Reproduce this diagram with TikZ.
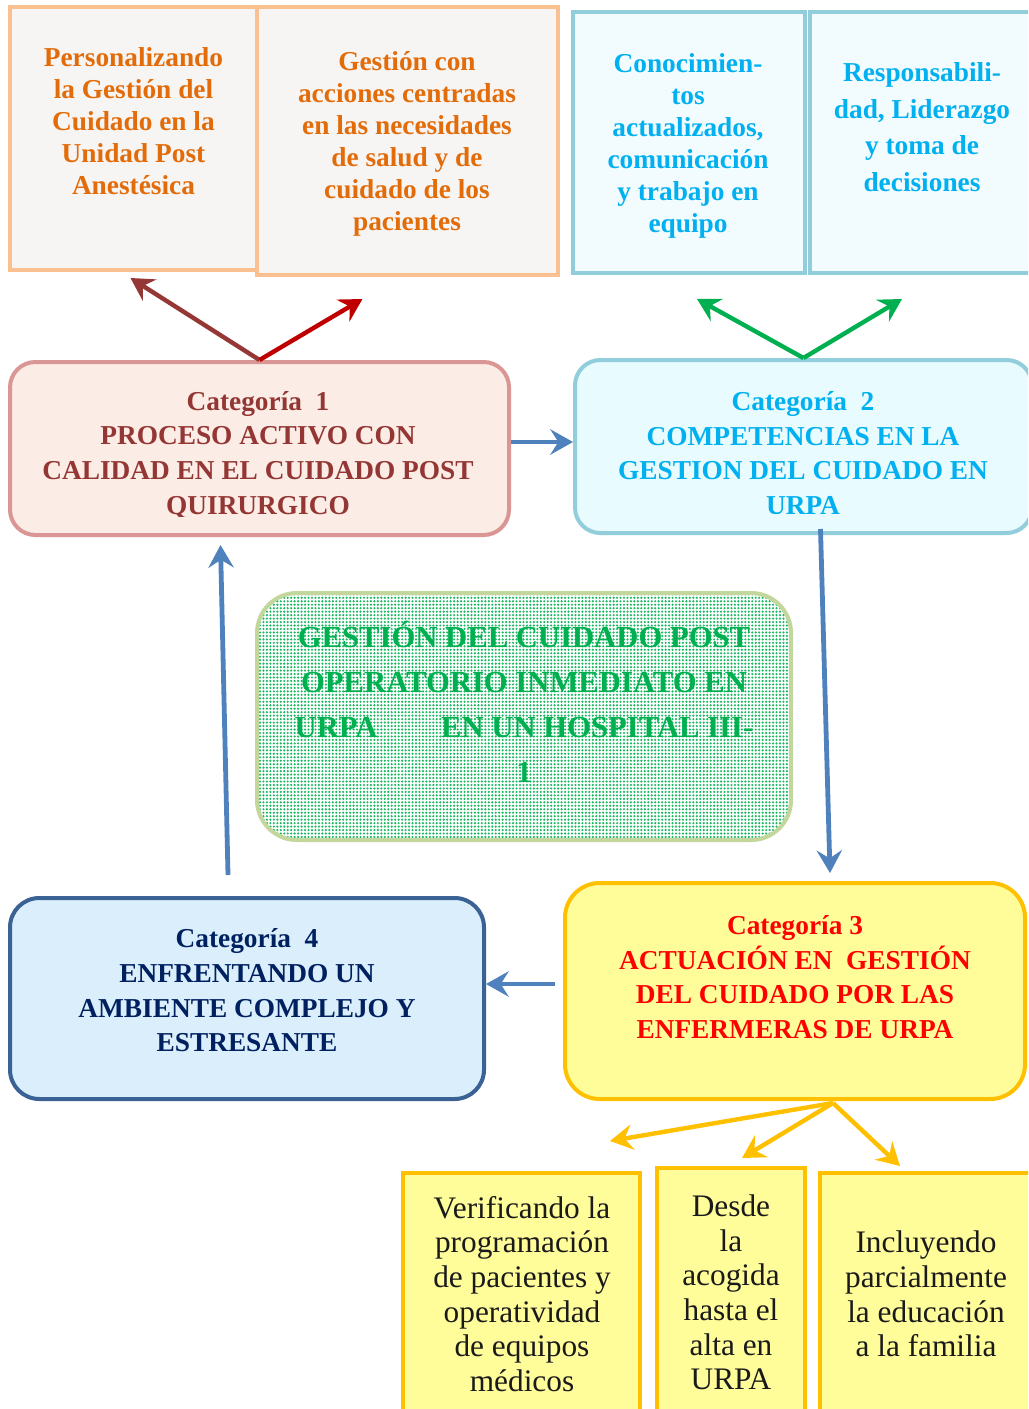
\documentclass[tikz,border=0pt]{standalone}
\usepackage{fontspec}
\setmainfont{Liberation Serif}
\usetikzlibrary{arrows.meta,calc,patterns.meta}
\definecolor{orTx}{HTML}{E36C0A}
\definecolor{orBd}{HTML}{FAC090}
\definecolor{orFl}{HTML}{F7F5F4}
\definecolor{cyTx}{HTML}{00B0F0}
\definecolor{cyBd}{HTML}{92CDDC}
\definecolor{cyFl}{HTML}{F2FBFD}
\definecolor{cyFlB}{HTML}{E8FBFE}
\definecolor{rdTx}{HTML}{943634}
\definecolor{rdBd}{HTML}{D99694}
\definecolor{rdFl}{HTML}{FBEDE6}
\definecolor{nvTx}{HTML}{002060}
\definecolor{nvBd}{HTML}{3A6295}
\definecolor{nvFl}{HTML}{DAEEFB}
\definecolor{ylBd}{HTML}{FFC000}
\definecolor{ylFl}{HTML}{FFFC9A}
\definecolor{grTx}{HTML}{00B050}
\definecolor{grBd}{HTML}{C3D69B}
\definecolor{arBr}{HTML}{953735}
\definecolor{arRd}{HTML}{C00000}
\definecolor{arBl}{HTML}{4F81BD}
\definecolor{bkTx}{HTML}{1A1A1A}
\tikzset{
  sq/.style={draw, line width=3pt, inner sep=0pt, rectangle},
  rnd/.style={draw, line width=3pt, inner sep=0pt, rectangle, rounded corners=#1},
  arr/.style={-{Stealth[length=17pt,width=19pt,inset=6pt]}, line width=3.3pt},
  txt/.style={align=center, inner sep=0pt},
  topfont/.style={font=\fontsize{20.5}{24}\selectfont\bfseries},
  catfont/.style={font=\fontsize{20.5}{26}\selectfont\bfseries},
  botfont/.style={font=\fontsize{23.5}{26}\selectfont},
}
\begin{document}
\begin{tikzpicture}[x=0.75pt,y=-0.75pt]
\clip (0,0) rectangle (1028,1409);
\fill[white] (0,0) rectangle (1028,1409);

% top boxes
\node[sq, draw=orBd, fill=orFl, minimum width=185.25pt, minimum height=197.25pt] (a) at (133.5,138.5) {};
\node[sq, draw=orBd, fill=orFl, minimum width=225.75pt, minimum height=201pt] (b) at (407.5,141) {};
\node[sq, draw=cyBd, fill=cyFl, minimum width=174pt, minimum height=195.75pt] (c) at (689,142.5) {};
\node[sq, draw=cyBd, fill=cyFl, minimum width=172.5pt, minimum height=195.75pt] (d) at (925,142.5) {};

\node[txt, topfont, text=orTx] (ta) at (133.5,121) {Personalizando\\la Gestión del\\Cuidado en la\\Unidad Post\\Anestésica};
\node[txt, topfont, text=orTx] (tb) at (407,143.5) {Gestión con\\acciones centradas\\en las necesidades\\de salud y de\\cuidado de los\\pacientes};
\node[txt, topfont, text=cyTx] (tcc) at (688,146) {Conocimien-\\tos\\actualizados,\\comunicación\\y trabajo en\\equipo};
\node[txt, font=\fontsize{20.5}{27.5}\selectfont\bfseries, text=cyTx] (td) at (922,127) {Responsabili-\\dad, Liderazgo\\y toma de\\decisiones};

% category boxes
\node[rnd=19pt, draw=rdBd, fill=rdFl, minimum width=374.25pt, minimum height=129.75pt] (c1) at (259.5,448.5) {};
\node[rnd=19pt, draw=cyBd, fill=cyFlB, minimum width=342.75pt, minimum height=129.75pt] (c2) at (803.5,446.5) {};
\node[rnd=26pt, draw=ylBd, fill=ylFl, minimum width=345pt, minimum height=162pt] (c3) at (795,991) {};
\node[rnd=22pt, draw=nvBd, fill=nvFl, minimum width=355.5pt, minimum height=150.75pt] (c4) at (247,998.5) {};

\begin{scope}
\clip (10,362) rectangle (509,516);
\node[txt, catfont, text=rdTx] (t1) at (258,455) {Categoría\ \ 1\\PROCESO ACTIVO CON\\CALIDAD EN EL CUIDADO POST\\QUIRURGICO};
\end{scope}
\begin{scope}
\clip (575,360) rectangle (1028,513);
\node[txt, catfont, text=cyTx] (t2) at (803,453) {Categoría\ \ 2\\COMPETENCIAS EN LA\\GESTION DEL CUIDADO EN\\URPA};
\end{scope}
\node[txt, catfont, text=red] (t3) at (795,977) {Categoría 3\\ACTUACIÓN EN\ \ GESTIÓN\\DEL CUIDADO POR LAS\\ENFERMERAS DE URPA};
\node[txt, catfont, text=nvTx] (t4) at (247,990.5) {Categoría\ \ 4\\ENFRENTANDO UN\\AMBIENTE COMPLEJO Y\\ESTRESANTE};

% center box
\node[rnd=30pt, draw=grBd, preaction={fill=white}, pattern={Dots[distance=2.6pt,radius=0.9pt]}, pattern color=grTx!90, minimum width=400.5pt, minimum height=185.25pt] (ctr) at (524,716.5) {};
\node[txt, font=\fontsize{23}{33.75}\selectfont\bfseries, text=grTx] (tctr) at (524,702) {GESTIÓN DEL CUIDADO POST\\OPERATORIO INMEDIATO EN\\\makebox[344pt]{URPA\hfill EN UN HOSPITAL III-}\\1};

% bottom boxes
\node[sq, draw=ylBd, fill=ylFl, minimum width=177.75pt, minimum height=185.25pt] (e) at (521.5,1296.5) {};
\node[sq, draw=ylBd, fill=ylFl, minimum width=111pt, minimum height=189pt] (f) at (731,1294) {};
\node[sq, draw=ylBd, fill=ylFl, minimum width=165pt, minimum height=185.25pt] (g) at (930,1296.5) {};

\node[txt, botfont, text=bkTx] (te) at (522,1294) {Verificando la\\programación\\de pacientes y\\operatividad\\de equipos\\médicos};
\node[txt, botfont, text=bkTx] (tf) at (731,1292.5) {Desde\\la\\acogida\\hasta el\\alta en\\URPA};
\node[txt, botfont, text=bkTx] (tg) at (926,1294) {Incluyendo\\parcialmente\\la educación\\a la familia};

% arrows
\draw[arr, draw=arBr, fill=arBr] (c1.north) -- ($(a.south)+(-3,6)$);
\draw[arr, draw=arRd, fill=arRd] (c1.north) -- ($(b.south)+(-45,22)$);
\draw[arr, draw=grTx, fill=grTx] (c2.north) -- ($(c.south)+(8,24)$);
\draw[arr, draw=grTx, fill=grTx] (c2.north) -- ($(d.south)+(-23,24)$);

\draw[arr, draw=arBl, fill=arBl, line width=3.6pt] (c1.east |- 0,442) -- (c2.west |- 0,442);
\draw[arr, draw=arBl, fill=arBl, line width=3.6pt] ($(c2.south)+(17,-6)$) -- ($(c3.north)+(35,-8)$);
\draw[arr, draw=arBl, fill=arBl, line width=3.6pt] ($(c3.west)+(-8,-7)$) -- ($(c4.east)+(0,-14.5)$);
\draw[arr, draw=arBl, fill=arBl, line width=3.6pt] ($(c4.north)+(-19,-21)$) -- ($(c1.south)+(-39,8)$);

\coordinate (c3s) at ($(c3.south)+(38,2)$);
\draw[arr, draw=ylBd, fill=ylBd] (c3s) -- ($(e.north)+(88.5,-30)$);
\draw[arr, draw=ylBd, fill=ylBd] (c3s) -- ($(f.north)+(11,-8)$);
\draw[arr, draw=ylBd, fill=ylBd] (c3s) -- ($(g.north)+(-30,-5)$);
\end{tikzpicture}
\end{document}
